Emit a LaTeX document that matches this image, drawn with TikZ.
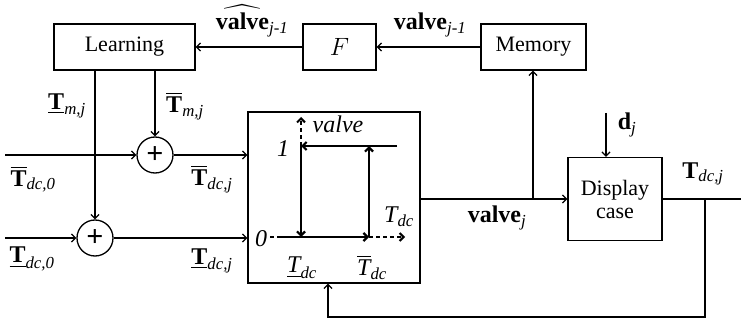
\RequirePackage{fix-cm}
\documentclass[tikz,border=0pt]{standalone}
\usepackage{amsmath}
\usepackage{fontspec}
\setmainfont{Liberation Serif}
\usetikzlibrary{arrows.meta}
\begin{document}
\begin{tikzpicture}[x=1pt,y=-1pt,
  font=\fontsize{22}{25}\selectfont,
  line width=1.3pt,
  arr/.style={-{Straight Barb[length=4pt,width=8pt]}},
  blk/.style={draw, line width=1.3pt, inner sep=0pt, align=center},
  sumj/.style={draw, circle, line width=1.3pt, minimum size=36pt, inner sep=0pt, font=\fontsize{30}{30}\selectfont\bfseries},
  hy/.style={line width=2.2pt},
  dsh/.style={line width=2pt, dash pattern=on 4pt off 3pt},
  lab/.style={inner sep=0pt, font=\fontsize{24}{26}\selectfont}
]
\useasboundingbox (0,0) rectangle (741,320);

% blocks
\node[blk, minimum width=141pt, minimum height=46pt] (learn) at (124.5,47) {Learning};
\node[blk, minimum width=73pt, minimum height=46pt] (F) at (339.5,47) {\fontsize{25}{25}\selectfont$F$};
\node[blk, minimum width=105pt, minimum height=46pt] (mem) at (533.5,47) {Memory};
\node[blk, minimum width=172pt, minimum height=171pt] (hyst) at (334,197.5) {};
\node[blk, minimum width=94pt, minimum height=83pt] (disp) at (615,199) {Display\\[-2pt]case};

% summing junctions
\node[sumj] (s1) at (155,155) {+};
\node[sumj] (s2) at (95,238) {+};

% top row
\draw[arr] (mem.west) -- (F.east);
\draw[arr] (F.west) -- (learn.east);

% learning outputs
\draw[arr] (s1 |- learn.south) -- (s1.north);
\draw[arr] (s2 |- learn.south) -- (s2.north);

% inputs
\coordinate (in1) at (5,155);
\coordinate (in2) at (5,238);
\draw[arr] (in1) -- (s1.west);
\draw[arr] (in2) -- (s2.west);
\draw[arr] (s1.east) -- (hyst.west |- s1);
\draw[arr] (s2.east) -- (hyst.west |- s2);

% valve_j
\coordinate (vj) at (533,199);
\draw[arr] (hyst.east |- disp.west) -- (disp.west);
\draw[arr] (vj) -- (vj |- mem.south);

% d_j
\coordinate (dj) at (606,113);
\draw[arr] (dj) -- (dj |- disp.north);

% output and feedback
\coordinate (out) at (741,199);
\coordinate (br) at (705,199);
\coordinate (fb) at (328,317);
\draw (disp.east) -- (out);
\draw[arr] (br) |- (fb) -- (fb |- hyst.south);

% hysteresis drawing
\coordinate (h0) at (270,237);
\coordinate (ha) at (279,237);
\coordinate (hL) at (301,237);
\coordinate (hR) at (369,237);
\coordinate (hx) at (405,237);
\coordinate (tL) at (301,146);
\coordinate (tR) at (369,146);
\coordinate (tE) at (397,146);
\coordinate (vy) at (301,117);
\draw[dsh] (h0) -- (ha);
\draw[hy, arr] (ha) -- (hR);
\draw[dsh, arr] (hR) -- (hx);
\draw[hy, arr] (tE) -- (tL);
\draw[hy, arr] (tL) -- (hL);
\draw[hy, arr] (hR) -- (tR);
\draw[dsh, arr] (tL) -- (vy);

% labels
\node[lab] (lhat) at (252,21) {$\widehat{\mathbf{valve}}_{\textit{j-1}}$};
\node[lab] (lvm) at (430,25) {$\mathbf{valve}_{\textit{j-1}}$};
\node[lab] (ltm1) at (67,106) {$\underline{\mathbf{T}}_{\textit{m,j}}$};
\node[lab] (ltm2) at (185,106) {$\overline{\mathbf{T}}_{\textit{m,j}}$};
\node[lab] (li1) at (33,179) {$\overline{\mathbf{T}}_{\textit{dc,0}}$};
\node[lab] (li2) at (32,259) {$\underline{\mathbf{T}}_{\textit{dc,0}}$};
\node[lab] (lo1) at (212,179) {$\overline{\mathbf{T}}_{\textit{dc,j}}$};
\node[lab] (lo2) at (212,261) {$\underline{\mathbf{T}}_{\textit{dc,j}}$};
\node[lab] (l1) at (283,149) {\textit{1}};
\node[lab] (l0) at (261,239) {\textit{0}};
\node[lab] (lval) at (338,124) {\textit{valve}};
\node[lab] (ltdc) at (399,217) {$\textit{T}_{\textit{dc}}$};
\node[lab] (ltlo) at (302,268) {$\underline{\textit{T}}_{\textit{dc}}$};
\node[lab] (lthi) at (372,267) {$\overline{\textit{T}}_{\textit{dc}}$};
\node[lab] (lvj) at (497,218) {$\mathbf{valve}_{\textit{j}}$};
\node[lab] (ldj) at (627,125) {$\mathbf{d}_{\textit{j}}$};
\node[lab] (ltout) at (703,174) {$\mathbf{T}_{\textit{dc,j}}$};
\end{tikzpicture}
\end{document}
